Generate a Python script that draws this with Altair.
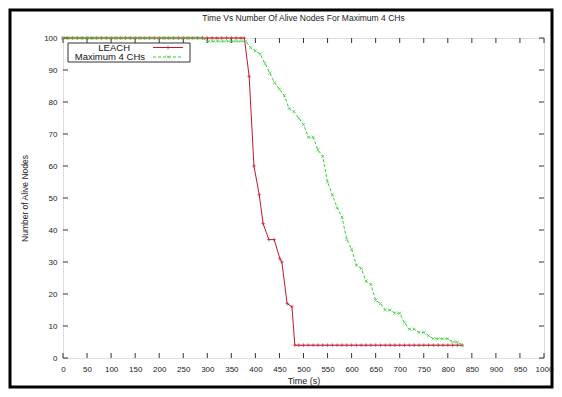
import altair as alt
import pandas as pd

# ---- data ----
leach_time = [0, 10, 20, 30, 40, 50, 60, 70, 80, 90, 100, 110, 120, 130, 140, 150, 160, 170, 180, 190,
              200, 210, 220, 230, 240, 250, 260, 270, 280, 290, 300, 310, 320, 330, 340, 350, 360, 370,
              377, 387, 397, 408, 416, 428, 439, 451, 455, 466, 476, 482,
              490, 500, 510, 520, 530, 540, 550, 560, 570, 580, 590, 600, 610, 620, 630, 640, 650, 660,
              670, 680, 690, 700, 710, 720, 730, 740, 750, 760, 770, 780, 790, 800, 810, 820, 830]
leach_alive = [100, 100, 100, 100, 100, 100, 100, 100, 100, 100, 100, 100, 100, 100, 100, 100, 100, 100, 100, 100,
               100, 100, 100, 100, 100, 100, 100, 100, 100, 100, 100, 100, 100, 100, 100, 100, 100, 100,
               100, 88, 60, 51, 42, 37, 37, 31, 30, 17, 16, 4,
               4, 4, 4, 4, 4, 4, 4, 4, 4, 4, 4, 4, 4, 4, 4, 4, 4, 4,
               4, 4, 4, 4, 4, 4, 4, 4, 4, 4, 4, 4, 4, 4, 4, 4, 4]

ch4_time = [0, 10, 20, 30, 40, 50, 60, 70, 80, 90, 100, 110, 120, 130, 140, 150, 160, 170, 180, 190,
            200, 210, 220, 230, 240, 250, 260, 270, 280, 290, 300, 310, 320, 330, 340, 350, 360, 370, 380,
            390, 400, 410, 420, 430, 440, 450, 460, 470, 480, 490, 500, 510, 520, 530, 540, 550, 560,
            570, 580, 590, 600, 610, 620, 630, 640, 650, 660, 670, 680, 690, 700, 710, 720, 730, 740,
            750, 760, 770, 780, 790, 800, 810, 820, 830]
ch4_alive = [100, 100, 100, 100, 100, 100, 100, 100, 100, 100, 100, 100, 100, 100, 100, 100, 100, 100, 100, 100,
             100, 100, 100, 100, 100, 100, 100, 100, 100, 100, 99, 99, 99, 99, 99, 99, 99, 99, 99,
             97, 96, 95, 92, 89, 86, 84, 82, 78, 77, 75, 73, 69, 69, 65, 63, 55, 51,
             47, 44, 37, 34, 29, 28, 24, 23, 18, 17, 15, 15, 14, 14, 11, 9, 9, 8,
             8, 7, 6, 6, 6, 6, 5, 5, 4]

x_ticks = [0, 50, 100, 150, 200, 250, 300, 350, 400, 450, 500, 550, 600, 650, 700, 750, 800, 850, 900, 950, 1000]
y_ticks = [0, 10, 20, 30, 40, 50, 60, 70, 80, 90, 100]

title_text = "Time Vs Number Of Alive Nodes For Maximum 4 CHs"
x_title = "Time (s)"
y_title = "Number of Alive Nodes"
series_names = ["LEACH", "Maximum 4 CHs"]

# ---- styling ----
W, H = 481, 320
FONT = "Liberation Sans"
RED = "#c0182a"
GREEN = "#33cc33"
PLUS = "M-1,0L1,0M0,-1L0,1"
XMARK = "M-1,-1L1,1M-1,1L1,-1"

df_leach = pd.DataFrame({"t": leach_time, "v": leach_alive})
df_ch4 = pd.DataFrame({"t": ch4_time, "v": ch4_alive})
df_xt = pd.DataFrame({"t": x_ticks})
df_yt = pd.DataFrame({"v": y_ticks})
one = pd.DataFrame({"k": [0]})

xscale = alt.Scale(domain=[0, 1000], nice=False, zero=False)
yscale = alt.Scale(domain=[0, 100], nice=False, zero=False)

X = alt.X("t:Q", scale=xscale, title=x_title,
          axis=alt.Axis(values=x_ticks, format="d", labelOverlap=False, labelFlush=False,
                        ticks=False, domain=False, grid=False,
                        labelFontSize=8, labelPadding=7, titleFontSize=9,
                        titleFontWeight="normal", titlePadding=3, labelFont=FONT,
                        titleFont=FONT, labelColor="#222", titleColor="#222"))
Y = alt.Y("v:Q", scale=yscale, title=y_title,
          axis=alt.Axis(values=y_ticks, format="d", labelOverlap=False, labelFlush=False,
                        ticks=False, domain=False, grid=False,
                        labelFontSize=8, labelPadding=6, titleFontSize=8.5,
                        titleFontWeight="normal", titlePadding=14, labelFont=FONT,
                        titleFont=FONT, labelColor="#222", titleColor="#222"))

leach_line = alt.Chart(df_leach).mark_line(color=RED, strokeWidth=1).encode(x=X, y=Y)
leach_pts = alt.Chart(df_leach).mark_point(shape=PLUS, size=14, color=RED, strokeWidth=0.9,
                                           filled=False).encode(x=X, y=Y)
ch4_line = alt.Chart(df_ch4).mark_line(color=GREEN, strokeWidth=1, strokeDash=[3, 2]).encode(x=X, y=Y)
ch4_pts = alt.Chart(df_ch4).mark_point(shape=XMARK, size=10, color=GREEN, strokeWidth=0.9,
                                       filled=False).encode(x=X, y=Y)

# inward ticks (gnuplot style), bottom/top/left/right
tick_color = "#333"
xt_bottom = alt.Chart(df_xt).mark_rule(color=tick_color, strokeWidth=1).encode(
    x=X, y=alt.value(H), y2=alt.value(H - 5))
xt_top = alt.Chart(df_xt).mark_rule(color=tick_color, strokeWidth=1).encode(
    x=X, y=alt.value(0), y2=alt.value(5))
yt_left = alt.Chart(df_yt).mark_rule(color=tick_color, strokeWidth=1).encode(
    y=Y, x=alt.value(0), x2=alt.value(5))
yt_right = alt.Chart(df_yt).mark_rule(color=tick_color, strokeWidth=1).encode(
    y=Y, x=alt.value(W), x2=alt.value(W - 5))

# chart title as text
title_mark = alt.Chart(one).mark_text(text=title_text, align="center", baseline="middle",
                                      font=FONT, fontSize=8.5, color="#222").encode(
    x=alt.value(W / 2), y=alt.value(-20))

# legend box (gnuplot style)
leg_box = alt.Chart(one).mark_rect(fill="white", stroke="#333", strokeWidth=1).encode(
    x=alt.value(5), x2=alt.value(127), y=alt.value(5), y2=alt.value(24))
leg_t1 = alt.Chart(one).mark_text(text=series_names[0], align="right", baseline="middle",
                                  font=FONT, fontSize=9.5, color="#111").encode(
    x=alt.value(67), y=alt.value(9.5))
leg_t2 = alt.Chart(one).mark_text(text=series_names[1], align="right", baseline="middle",
                                  font=FONT, fontSize=9.5, color="#111").encode(
    x=alt.value(82), y=alt.value(19))
leg_l1 = alt.Chart(one).mark_rule(color=RED, strokeWidth=1).encode(
    x=alt.value(90), x2=alt.value(120), y=alt.value(9.5))
leg_l2 = alt.Chart(one).mark_rule(color=GREEN, strokeWidth=1, strokeDash=[3, 2]).encode(
    x=alt.value(90), x2=alt.value(120), y=alt.value(19))
leg_p1 = alt.Chart(one).mark_point(shape=PLUS, size=14, color=RED, strokeWidth=0.9,
                                   filled=False).encode(x=alt.value(105), y=alt.value(9.5))
leg_p2 = alt.Chart(one).mark_point(shape=XMARK, size=10, color=GREEN, strokeWidth=0.9,
                                   filled=False).encode(x=alt.value(105), y=alt.value(19))

# outer black frame of the picture
frame = alt.Chart(one).mark_rect(fill=None, stroke="black", strokeWidth=3).encode(
    x=alt.value(-53), x2=alt.value(489), y=alt.value(-28), y2=alt.value(349))

chart = alt.layer(
    frame, xt_bottom, xt_top, yt_left, yt_right,
    leach_line, leach_pts, ch4_line, ch4_pts,
    leg_box, leg_l1, leg_l2, leg_p1, leg_p2, leg_t1, leg_t2, title_mark,
).properties(
    width=W, height=H,
    autosize=alt.AutoSizeParams(type="none"),
    padding={"left": 55, "top": 30, "right": 10, "bottom": 31},
).configure_view(
    stroke="#444", strokeWidth=1.5
).configure(background="white")

chart.save("out.html", embed_options={"renderer": "svg", "actions": False})
